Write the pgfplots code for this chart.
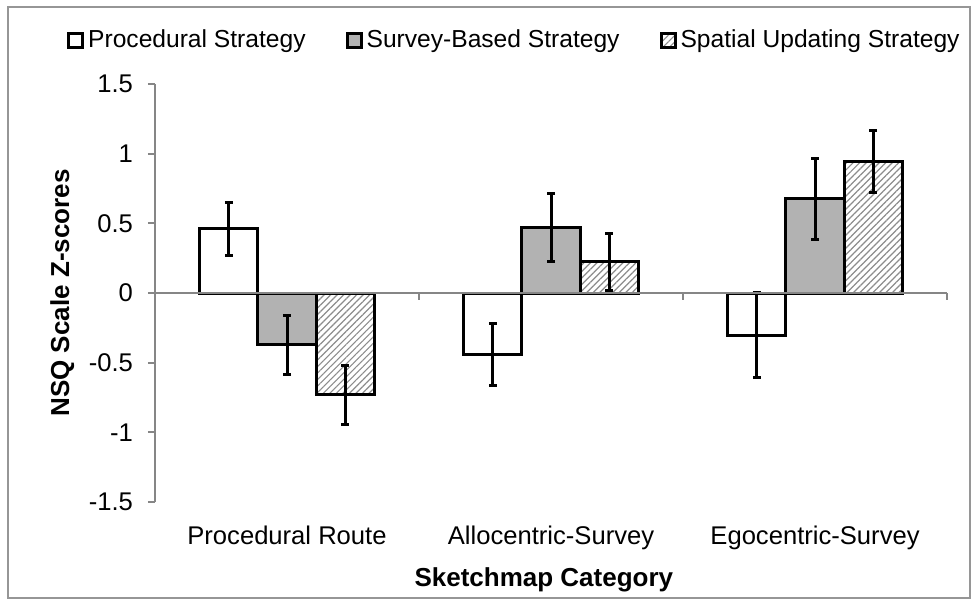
\documentclass[border=0pt]{standalone}
\usepackage{pgfplots}
\pgfplotsset{compat=1.18}
\usepackage{pgfplotstable}
\usepackage{fontspec}
\setmainfont{Liberation Sans}
\usetikzlibrary{patterns.meta}
\definecolor{axgray}{RGB}{134,134,134}
\definecolor{barfill}{RGB}{178,178,178}
\definecolor{hatchgray}{RGB}{140,140,140}
\definecolor{framegray}{RGB}{150,150,150}

\pgfplotstableread{
x y e
0 0.460 0.188
1 -0.443 0.223
2 -0.303 0.305
}\proc
\pgfplotstableread{
x y e
0 -0.371 0.213
1 0.469 0.244
2 0.675 0.290
}\survey
\pgfplotstableread{
x y e
0 -0.730 0.213
1 0.224 0.204
2 0.944 0.219
}\spatial

\begin{document}
\begin{tikzpicture}
\begin{axis}[
  scale only axis, width=396pt, height=209pt,
  xmin=-0.5, xmax=2.5, ymin=-1.5, ymax=1.5,
  clip=false,
  axis lines*=left,
  x axis line style={draw=none},
  y axis line style={axgray, line width=1pt},
  xtick={0,1,2},
  xticklabels={Procedural Route, Allocentric-Survey, Egocentric-Survey},
  xtick style={draw=none},
  ytick={-1.5,-1,-0.5,0,0.5,1,1.5},
  yticklabels={-1.5,-1,-0.5,0,0.5,1,1.5},
  ytick style={axgray, line width=1pt},
  tick align=outside, major tick length=3.5pt,
  ticklabel style={font=\fontsize{12.8}{15}\selectfont},
  xticklabel style={anchor=base, yshift=-17.5pt},
  yticklabel style={xshift=-4pt},
  xlabel={\bfseries Sketchmap Category},
  ylabel={\bfseries NSQ Scale Z-scores},
  label style={font=\fontsize{13}{15}\selectfont},
  xlabel style={at={(rel axis cs:0.491,-0.203)}, anchor=base},
  ylabel style={at={(rel axis cs:-0.117,0.5)}, anchor=center},
  ybar=0pt, bar width=0.22,
  legend image code/.code={\draw[#1, line width=1.5pt] (0pt,-3.5pt) rectangle (7pt,3.5pt);},
  legend columns=3,
  legend style={at={(0.455,1.105)}, anchor=center, draw=none, fill=none,
    font=\fontsize{12.3}{14}\selectfont,
    /tikz/every even column/.append style={column sep=18pt}},
  every axis plot/.append style={draw=black, line width=1.5pt,
    error bars/y dir=both, error bars/y explicit,
    error bars/error bar style={black, line width=1.5pt},
    error bars/error mark options={rotate=90, mark size=2pt, line width=1.5pt, black}},
]
\addplot[fill=white, bar shift=-0.22] table[x=x, y=y, y error=e] {\proc};
\addplot[fill=barfill, bar shift=0] table[x=x, y=y, y error=e] {\survey};
\addplot[fill=white, pattern={Lines[angle=45, distance=2.3pt, line width=0.6pt]}, pattern color=hatchgray, bar shift=0.22] table[x=x, y=y, y error=e] {\spatial};
\legend{Procedural Strategy, Survey-Based Strategy, Spatial Updating Strategy}
\draw[axgray, line width=1pt] (axis cs:-0.5,0) -- (axis cs:2.5,0);
\pgfplotsinvokeforeach{0.5,1.5,2.5}{\draw[axgray, line width=1pt] (axis cs:#1,0) -- ++(0pt,-3.5pt);}
\draw[framegray, line width=0.6pt] (rel axis cs:-0.1856,-0.2297) rectangle (rel axis cs:1.029,1.1842);
\path (rel axis cs:-0.1957,-0.2488) rectangle (rel axis cs:1.0391,1.2010);
\end{axis}
\end{tikzpicture}
\end{document}
